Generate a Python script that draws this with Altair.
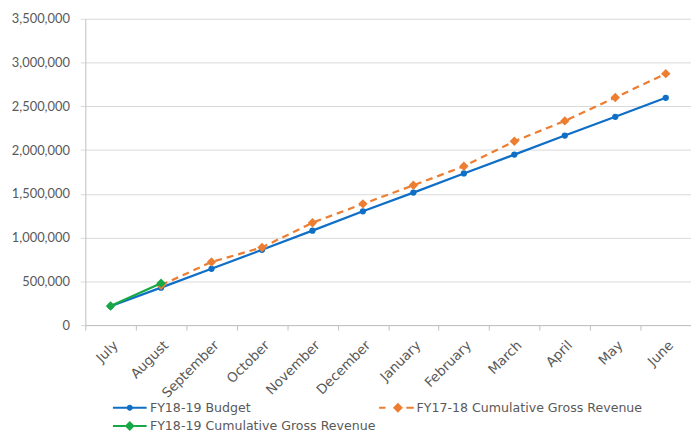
import altair as alt
import pandas as pd

months = ["July", "August", "September", "October", "November", "December",
          "January", "February", "March", "April", "May", "June"]
series_names = ["FY18-19 Budget", "FY17-18 Cumulative Gross Revenue", "FY18-19 Cumulative Gross Revenue"]
series_colors = ["#0F6FC6", "#ED7D31", "#17A846"]

budget = [215000, 428000, 643000, 860000, 1079000, 1300000, 1514000, 1733000, 1948000, 2166000, 2380000, 2597000]
fy1718 = [None, 455000, 721000, 887000, 1170000, 1385000, 1597000, 1815000, 2100000, 2333000, 2600000, 2873000]
fy1819 = [218000, 479000]

rows = []
for name, vals in zip(series_names, [budget, fy1718, fy1819]):
    for m, v in zip(months, vals):
        if v is not None:
            rows.append({"month": m, "series": name, "value": v})
df = pd.DataFrame(rows)

FONT_Y = "Lato"
FONT = "DejaVu Sans"
LABEL = "#595959"

x_enc = alt.X("month:N", sort=months, title=None,
              scale=alt.Scale(type="band", paddingInner=0, paddingOuter=0),
              axis=alt.Axis(labelAngle=-45, tickBand="extent", domainColor="#BFBFBF",
                            tickColor="#BFBFBF", tickSize=5, labelPadding=8,
                            labelFont=FONT, labelFontSize=13.5, labelColor=LABEL, grid=False))
y_enc = alt.Y("value:Q", title=None,
              scale=alt.Scale(domain=[0, 3500000], nice=False),
              axis=alt.Axis(values=[0, 500000, 1000000, 1500000, 2000000, 2500000, 3000000, 3500000],
                            format=",d", labelFont=FONT_Y, labelFontSize=13, labelColor=LABEL,
                            domainColor="#BFBFBF", tickColor="#D9D9D9", tickSize=5, labelPadding=11,
                            gridColor="#D9D9D9"))

base = alt.Chart(df)
layers = []
shapes = ["circle", "diamond", "diamond"]
sizes = [40, 90, 90]
for i, (name, col, shp, sz) in enumerate(zip(series_names, series_colors, shapes, sizes)):
    sub = base.transform_filter(alt.datum.series == name)
    if i == 1:
        line = sub.mark_line(color=col, strokeWidth=2.25, strokeDash=[7, 5])
    else:
        line = sub.mark_line(color=col, strokeWidth=2.25)
    layers.append(line.encode(x=x_enc, y=y_enc))
    layers.append(sub.mark_point(shape=shp, filled=True, color=col, size=sz, opacity=1)
                  .encode(x=x_enc, y=y_enc))

paths = [
    "M-3.4,-0.2H-0.55V0.2H-3.4Z M0.55,-0.2H3.4V0.2H0.55Z M-0.6,0A0.6,0.6 0 1 1 0.6,0A0.6,0.6 0 1 1 -0.6,0Z",
    "M-3.5,-0.2H-2.2V0.2H-3.5Z M2.0,-0.2H3.5V0.2H2.0Z M-0.7,0L0.3,-1.0L1.3,0L0.3,1.0Z",
    "M-3.4,-0.2H-0.9V0.2H-3.4Z M0.9,-0.2H3.4V0.2H0.9Z M-1.0,0L0,-1.0L1.0,0L0,1.0Z",
]
legend = alt.Legend(title=None, orient="none", legendX=38.5, legendY=385.5, columns=2,
                    direction="horizontal", symbolSize=100, symbolStrokeWidth=0,
                    labelOffset=14, labelFont=FONT, labelFontSize=12.7, labelColor=LABEL,
                    rowPadding=5, columnPadding=2, padding=0, labelLimit=400)
legend_layer = base.transform_filter("false").mark_point(filled=True, opacity=1).encode(
    fill=alt.Fill("series:N", scale=alt.Scale(domain=series_names, range=series_colors), legend=legend),
    shape=alt.Shape("series:N", scale=alt.Scale(domain=series_names, range=paths), legend=legend),
)
layers.append(legend_layer)

chart = alt.layer(*layers).properties(
    width=611, height=309,
    autosize=alt.AutoSizeParams(type="none"),
    padding={"left": 78, "top": 9, "right": 0, "bottom": 108},
).configure_view(stroke=None)

chart.save("out.html", embed_options={"renderer": "svg", "actions": False})
